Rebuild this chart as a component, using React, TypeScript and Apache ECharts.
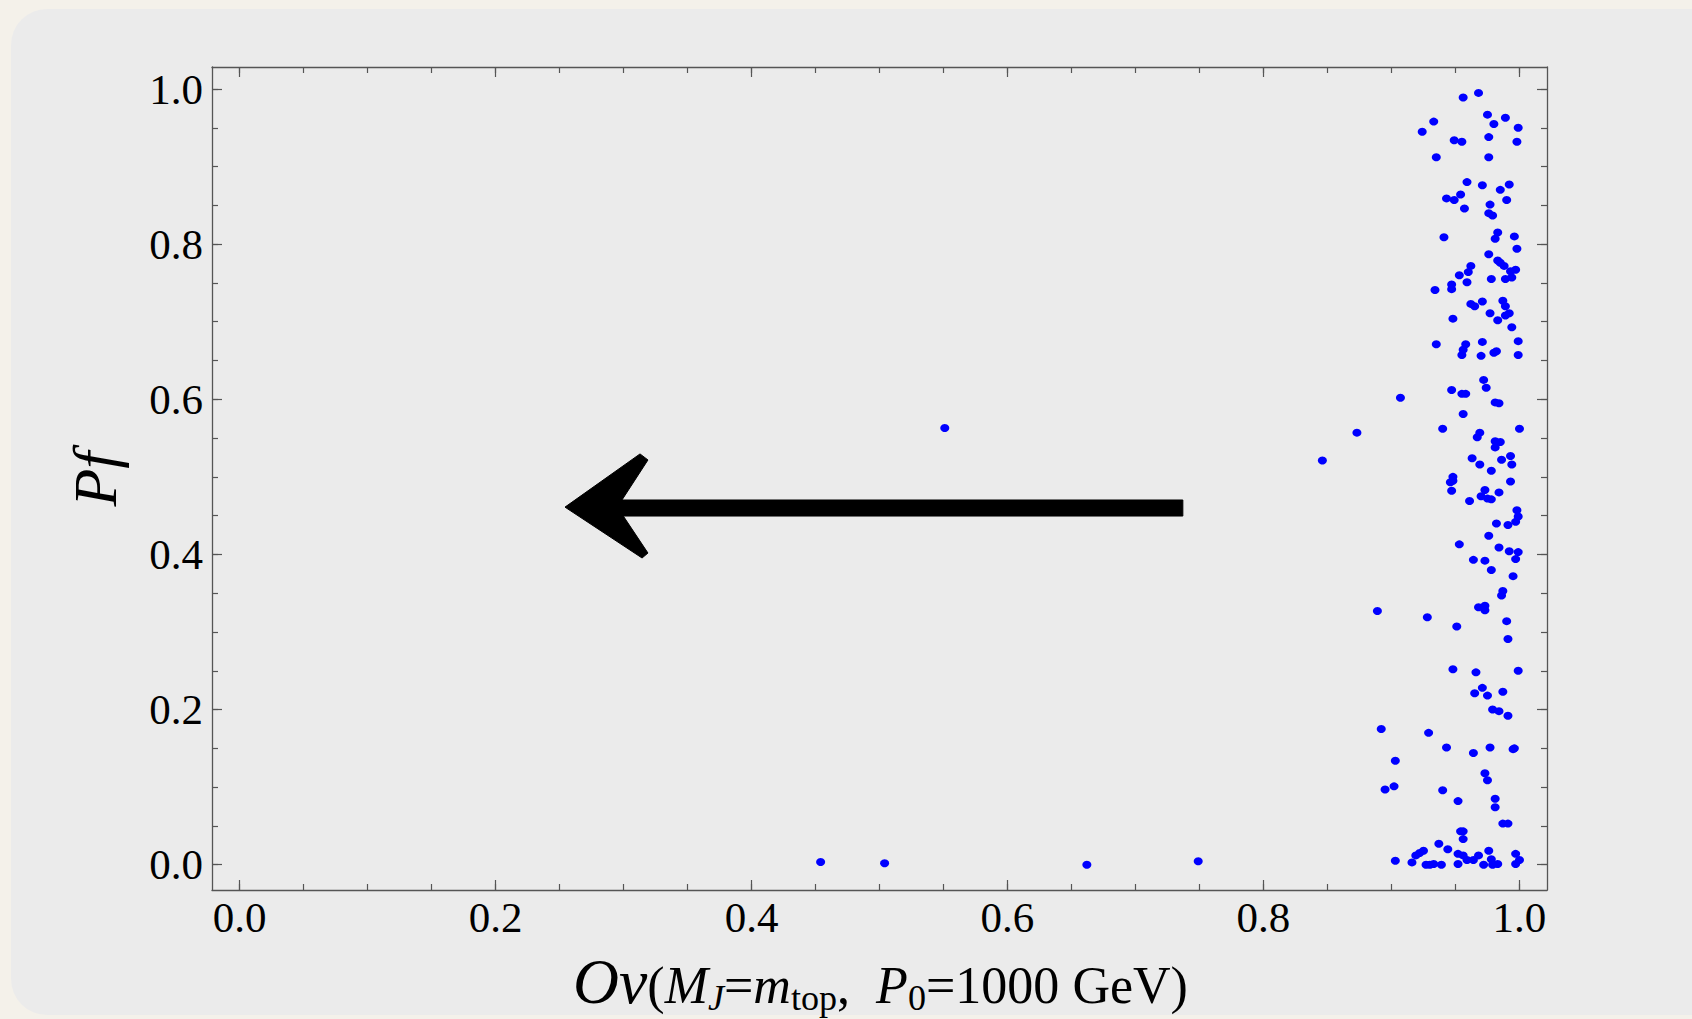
import React, { useEffect, useRef } from 'react';
import * as echarts from 'echarts';

// ---------- axes ----------
const X_RANGE = [-0.0215, 1.0215];
const Y_RANGE = [-0.0326, 1.0284];
const MAJOR_TICKS = [0, 0.2, 0.4, 0.6, 0.8, 1.0];
const MINOR_TICKS = [0, 0.05, 0.1, 0.15, 0.2, 0.25, 0.3, 0.35, 0.4, 0.45, 0.5, 0.55, 0.6, 0.65, 0.7, 0.75, 0.8, 0.85, 0.9, 0.95, 1.0];

// ---------- data (Ov, Pf) ----------
const clusterTop = [
  [0.956, 0.989], [0.968, 0.995], [0.975, 0.967], [0.989, 0.963], [0.933, 0.958], [0.98, 0.955], [0.999, 0.95],
  [0.924, 0.945], [0.949, 0.934], [0.955, 0.932], [0.976, 0.938], [0.998, 0.932], [0.935, 0.912], [0.976, 0.912],
  [0.959, 0.88], [0.971, 0.876], [0.992, 0.877], [0.985, 0.87], [0.954, 0.864], [0.943, 0.859], [0.949, 0.857],
  [0.99, 0.857], [0.977, 0.851], [0.957, 0.846], [0.976, 0.84], [0.979, 0.837], [0.941, 0.809], [0.983, 0.815],
  [0.981, 0.807], [0.996, 0.81], [0.998, 0.794], [0.976, 0.787], [0.983, 0.779], [0.985, 0.776], [0.988, 0.772],
  [0.962, 0.772], [0.96, 0.764], [0.953, 0.76], [0.997, 0.767], [0.993, 0.765], [0.978, 0.755], [0.989, 0.755],
  [0.994, 0.757], [0.959, 0.751], [0.947, 0.748], [0.947, 0.742], [0.934, 0.741], [0.971, 0.726], [0.962, 0.723],
  [0.965, 0.72], [0.987, 0.727], [0.989, 0.72], [0.992, 0.711], [0.989, 0.708], [0.977, 0.711], [0.983, 0.702],
  [0.948, 0.704], [0.994, 0.693], [0.935, 0.671], [0.958, 0.671], [0.956, 0.664], [0.955, 0.657], [0.971, 0.674],
  [0.999, 0.675], [0.97, 0.656], [0.98, 0.66], [0.982, 0.662], [0.999, 0.657], [0.972, 0.625], [0.974, 0.615],
  [0.947, 0.612], [0.955, 0.607], [0.958, 0.607], [0.907, 0.602],
];
const clusterMiddle = [
  [0.981, 0.596], [0.984, 0.595], [0.956, 0.581], [0.873, 0.557], [0.94, 0.562], [1.0, 0.562], [0.969, 0.557],
  [0.967, 0.551], [0.981, 0.546], [0.985, 0.545], [0.981, 0.538], [0.846, 0.521], [0.963, 0.524], [0.986, 0.522],
  [0.993, 0.527], [0.969, 0.516], [0.994, 0.516], [0.978, 0.508], [0.948, 0.5], [0.948, 0.495], [0.946, 0.493],
  [0.993, 0.494], [0.947, 0.482], [0.973, 0.483], [0.984, 0.48], [0.97, 0.475], [0.975, 0.472], [0.978, 0.471],
  [0.961, 0.469], [0.998, 0.457], [0.999, 0.449], [0.997, 0.442], [0.982, 0.44], [0.991, 0.438], [0.976, 0.424],
  [0.953, 0.413], [0.984, 0.409], [0.992, 0.404], [0.999, 0.403], [0.997, 0.394], [0.964, 0.393], [0.973, 0.392],
  [0.978, 0.38], [0.995, 0.372], [0.987, 0.353], [0.986, 0.347], [0.889, 0.327], [0.968, 0.332], [0.973, 0.334],
  [0.973, 0.328], [0.928, 0.319], [0.99, 0.314], [0.951, 0.307], [0.991, 0.291], [0.948, 0.252], [0.966, 0.248],
  [0.999, 0.25], [0.971, 0.228], [0.965, 0.221], [0.975, 0.218], [0.987, 0.223], [0.979, 0.2], [0.984, 0.198],
  [0.991, 0.192],
];
const clusterBottom = [
  [0.892, 0.175], [0.929, 0.17], [0.943, 0.151], [0.964, 0.144], [0.977, 0.151], [0.995, 0.149], [0.996, 0.15],
  [0.903, 0.134], [0.973, 0.118], [0.975, 0.109], [0.895, 0.097], [0.902, 0.101], [0.94, 0.096], [0.952, 0.082],
  [0.981, 0.085], [0.981, 0.074], [0.987, 0.053], [0.991, 0.053], [0.954, 0.043], [0.956, 0.043], [0.956, 0.033],
  [0.937, 0.027], [0.944, 0.02], [0.925, 0.018], [0.922, 0.015], [0.919, 0.012], [0.903, 0.005], [0.916, 0.003],
  [0.927, 0.0], [0.93, 0.0], [0.933, 0.001], [0.939, 0.0], [0.952, 0.001], [0.952, 0.014], [0.956, 0.012],
  [0.959, 0.006], [0.964, 0.006], [0.968, 0.012], [0.972, 0.0], [0.976, 0.018], [0.978, 0.007], [0.979, 0.0],
  [0.983, 0.001], [0.997, 0.014], [1.0, 0.006], [0.997, 0.001],
];
const outliers = [
  [0.551, 0.563], [0.454, 0.0035], [0.504, 0.002], [0.662, 0.0], [0.749, 0.0044],
];

// ---------- arrow annotation (data coordinates) ----------
const arrowShaft = [[0.737, 0.4702], [0.288, 0.4702], [0.288, 0.4495], [0.737, 0.4495]];
const arrowHead = [
  [0.2543, 0.461], [0.3129, 0.5296], [0.3191, 0.5218], [0.2988, 0.4702],
  [0.2988, 0.4521], [0.3191, 0.4018], [0.3145, 0.3954],
];

// ---------- titles ----------
const Y_TITLE = 'Pf';
const X_TITLE_PARTS = [
  { text: 'Ov', italic: true, size: 'big', sub: false },
  { text: '(', italic: false, size: 'main', sub: false },
  { text: 'M', italic: true, size: 'main', sub: false },
  { text: 'J', italic: true, size: 'sub', sub: true },
  { text: '=', italic: false, size: 'main', sub: false },
  { text: 'm', italic: true, size: 'main', sub: false },
  { text: 'top', italic: false, size: 'sub', sub: true },
  { text: ',  ', italic: false, size: 'main', sub: false },
  { text: 'P', italic: true, size: 'main', sub: false },
  { text: '0', italic: false, size: 'sub', sub: true },
  { text: '=1000 GeV)', italic: false, size: 'main', sub: false },
];

const FONT = '"Liberation Serif", "Times New Roman", serif';
const FRAME = '#555555';

function buildXTitle(): any[] {
  const sizes: Record<string, number> = { big: 60, main: 49, sub: 34 };
  const canvas = document.createElement('canvas');
  const ctx = canvas.getContext('2d')!;
  const fontOf = (p: any, s: number) => `${p.italic ? 'italic ' : ''}${s}px ${FONT}`;
  const widths = X_TITLE_PARTS.map((p) => {
    ctx.font = fontOf(p, sizes[p.size]);
    return ctx.measureText(p.text).width;
  });
  const total = widths.reduce((a, b) => a + b, 0);
  const targetLeft = 573;
  const targetRight = 1188;
  const k = (targetRight - targetLeft) / total;
  const mainBase = 1003;
  const subBase = 1010;
  let x = targetLeft;
  return X_TITLE_PARTS.map((p, i) => {
    const fs = sizes[p.size] * k;
    const base = p.sub ? subBase : mainBase;
    const el = {
      type: 'text',
      x,
      y: base - 0.3375 * fs,
      silent: true,
      style: {
        text: p.text,
        font: fontOf(p, fs),
        fill: '#000',
        align: 'left',
        verticalAlign: 'middle',
        textAlign: 'left',
        textVerticalAlign: 'middle',
      },
    };
    x += widths[i] * k;
    return el;
  });
}

function axis(dim: 'x' | 'y', position: string, ticks: number[], len: number, labels: boolean, line: boolean) {
  const range = dim === 'x' ? X_RANGE : Y_RANGE;
  return {
    type: 'value',
    position,
    min: range[0],
    max: range[1],
    gridIndex: 0,
    axisLine: { show: line, onZero: false, lineStyle: { color: FRAME, width: 1.3 } },
    axisTick: { show: true, inside: true, length: len, customValues: ticks, lineStyle: { color: FRAME, width: 1.2 } },
    axisLabel: labels
      ? {
          show: true,
          customValues: ticks,
          formatter: (v: number) => v.toFixed(1),
          fontFamily: FONT,
          fontSize: 43,
          color: '#000',
          margin: dim === 'x' ? 6 : 9,
        }
      : { show: false },
    splitLine: { show: false },
    minorTick: { show: false },
  };
}

export default function App() {
  const ref = useRef<HTMLDivElement>(null);
  useEffect(() => {
    const chart = echarts.init(ref.current!, null, { renderer: 'svg' });
    const arrowShapes = [arrowShaft, arrowHead];
    const option: any = {
      animation: false,
      backgroundColor: 'transparent',
      grid: { left: 212, top: 67, width: 1335, height: 823, containLabel: false },
      xAxis: [
        axis('x', 'bottom', MAJOR_TICKS, 10, true, true),
        axis('x', 'bottom', MINOR_TICKS, 6, false, false),
        axis('x', 'top', MAJOR_TICKS, 10, false, true),
        axis('x', 'top', MINOR_TICKS, 6, false, false),
      ],
      yAxis: [
        axis('y', 'left', MAJOR_TICKS, 10, true, true),
        axis('y', 'left', MINOR_TICKS, 6, false, false),
        axis('y', 'right', MAJOR_TICKS, 10, false, true),
        axis('y', 'right', MINOR_TICKS, 6, false, false),
      ],
      graphic: [
        {
          type: 'text',
          x: 95,
          y: 479,
          rotation: Math.PI / 2,
          silent: true,
          style: {
            text: Y_TITLE,
            font: `italic 62px ${FONT}`,
            fill: '#000',
            align: 'center',
            verticalAlign: 'middle',
            textAlign: 'center',
            textVerticalAlign: 'middle',
          },
        },
        ...buildXTitle(),
      ],
      series: [
        {
          type: 'custom',
          xAxisIndex: 0,
          yAxisIndex: 0,
          clip: false,
          silent: true,
          z: 1,
          data: arrowShapes.map((_, i) => [i, 0]),
          renderItem: (params: any, api: any) => {
            const poly = arrowShapes[params.dataIndex];
            return {
              type: 'polygon',
              shape: { points: poly.map((p) => api.coord(p)) },
              style: { fill: '#000000', stroke: '#000000', lineWidth: 1 },
            };
          },
        },
        {
          type: 'scatter',
          xAxisIndex: 0,
          yAxisIndex: 0,
          symbol: 'circle',
          symbolSize: [9, 8],
          z: 3,
          itemStyle: { color: '#0000ff', opacity: 1 },
          data: [...clusterTop, ...clusterMiddle, ...clusterBottom, ...outliers],
        },
      ],
    };
    chart.setOption(option);
    return () => chart.dispose();
  }, []);

  return (
    <div style={{ position: 'fixed', left: 0, top: 0, width: 1692, height: 1019, background: '#f4f1ea', overflow: 'hidden' }}>
      <div style={{ position: 'absolute', left: 11, top: 9, width: 1720, height: 1006, background: '#ebebeb', borderRadius: 36 }} />
      <div ref={ref} style={{ position: 'absolute', left: 0, top: 0, width: 1692, height: 1019 }} />
    </div>
  );
}
